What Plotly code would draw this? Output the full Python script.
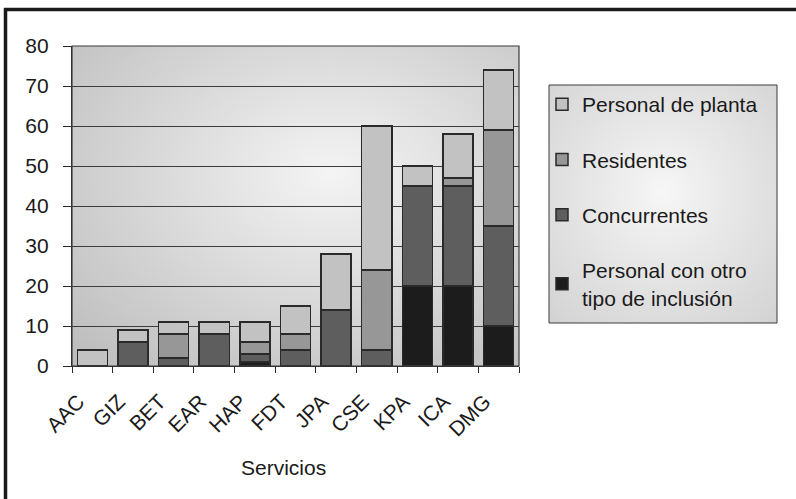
import base64
import plotly.graph_objects as go

# Personal por servicio, por tipo de vinculación
servicios = ["AAC", "GIZ", "BET", "EAR", "HAP", "FDT", "JPA", "CSE", "KPA", "ICA", "DMG"]
otro_tipo = [0, 0, 0, 0, 1, 0, 0, 0, 20, 20, 10]
concurrentes = [0, 6, 2, 8, 2, 4, 14, 4, 25, 25, 25]
residentes = [0, 0, 6, 0, 3, 4, 0, 20, 0, 2, 24]
planta = [4, 3, 3, 3, 5, 7, 14, 36, 5, 11, 15]

y_ticks = list(range(0, 81, 10))

W, H = 796, 499
L, R, T, B = 72, 519, 46, 366  # plot area in pixels


def px_x(p):
    return (p - L) / (R - L)


def px_y(p):
    return (B - p) / (B - T)


def radial_svg(c0, c1, cx="50%", cy="50%", r="75%"):
    svg = (
        '<svg xmlns="http://www.w3.org/2000/svg" width="200" height="200" '
        'preserveAspectRatio="none" viewBox="0 0 200 200">'
        f'<defs><radialGradient id="g" cx="{cx}" cy="{cy}" r="{r}">'
        f'<stop offset="0%" stop-color="{c0}"/><stop offset="100%" stop-color="{c1}"/>'
        '</radialGradient></defs><rect width="200" height="200" fill="url(#g)"/></svg>'
    )
    return "data:image/svg+xml;base64," + base64.b64encode(svg.encode()).decode()


FONT = "Liberation Sans, Arial, sans-serif"
FS = 21
OUTLINE = dict(color="#2a2a2a", width=1.5)

# stacked bottom to top; legendrank lists them top to bottom
series = [
    ("Personal con otro<br>tipo de inclusión", otro_tipo, "#1c1c1c", 4),
    ("Concurrentes", concurrentes, "#5e5e5e", 3),
    ("Residentes", residentes, "#979797", 2),
    ("Personal de planta", planta, "#c2c2c2", 1),
]

fig = go.Figure()
for i, (name, vals, col, rank) in enumerate(series):
    fig.add_trace(go.Bar(
        x=servicios, y=vals, name=name, legendgroup=f"g{i}", legendrank=rank,
        marker=dict(color=col, line=OUTLINE),
    ))

shapes = [
    # outer frame (top and left edges)
    dict(type="line", xref="paper", yref="paper", x0=px_x(4), x1=px_x(W + 5),
         y0=px_y(9.5), y1=px_y(9.5), line=dict(color="#1a1a1a", width=3.5)),
    dict(type="line", xref="paper", yref="paper", x0=px_x(5.5), x1=px_x(5.5),
         y0=px_y(8), y1=px_y(H + 5), line=dict(color="#1a1a1a", width=3.5)),
    # plot area border
    dict(type="rect", xref="paper", yref="paper", x0=0, x1=1, y0=0, y1=1,
         line=dict(color="#3a3a3a", width=1.2), layer="above"),
    # legend box
    dict(type="rect", xref="paper", yref="paper", x0=px_x(549), x1=px_x(777),
         y0=px_y(323), y1=px_y(85), line=dict(color="#3a3a3a", width=1)),
]

images = [
    dict(source=radial_svg("#f4f4f4", "#bdbdbd", cx="58%", cy="40%", r="80%"),
         xref="paper", yref="paper", x=0, y=1, sizex=1, sizey=1,
         xanchor="left", yanchor="top", sizing="stretch", layer="below"),
    dict(source=radial_svg("#f6f6f6", "#d2d2d2", cx="50%", cy="45%", r="75%"),
         xref="paper", yref="paper", x=px_x(549), y=px_y(85),
         sizex=px_x(777) - px_x(549), sizey=px_y(85) - px_y(323),
         xanchor="left", yanchor="top", sizing="stretch", layer="below"),
]

fig.update_layout(
    width=W, height=H,
    margin=dict(l=L, r=W - R, t=T, b=H - B, pad=0),
    barmode="stack", bargap=0.26,
    paper_bgcolor="white", plot_bgcolor="rgba(0,0,0,0)",
    font=dict(family=FONT, size=FS, color="#1a1a1a"),
    showlegend=True,
    legend=dict(
        x=px_x(542), y=px_y(84), xanchor="left", yanchor="top",
        bgcolor="rgba(0,0,0,0)", borderwidth=0,
        traceorder="grouped", tracegroupgap=25,
        font=dict(family=FONT, size=FS, color="#1a1a1a"),
    ),
    shapes=shapes, images=images,
    annotations=[dict(text="Servicios", xref="paper", yref="paper",
                      x=px_x(283), y=px_y(467), xanchor="center", yanchor="middle",
                      showarrow=False, font=dict(family=FONT, size=FS, color="#1a1a1a"))],
)

fig.update_yaxes(
    range=[0, 80], tickvals=y_ticks, ticktext=[str(v) for v in y_ticks],
    showgrid=True, gridcolor="#3c3c3c", gridwidth=1,
    ticks="outside", ticklen=8, tickcolor="#2a2a2a", tickwidth=1,
    showline=True, linecolor="#2a2a2a", linewidth=1.2,
    zeroline=False, ticklabelstandoff=10,
)
fig.update_xaxes(
    tickangle=-45, tickson="boundaries",
    ticks="outside", ticklen=6, tickcolor="#2a2a2a", tickwidth=1,
    showline=True, linecolor="#2a2a2a", linewidth=1.2,
    ticklabelstandoff=14, ticklabelshift=-14,
)

fig.write_html("out.html")
